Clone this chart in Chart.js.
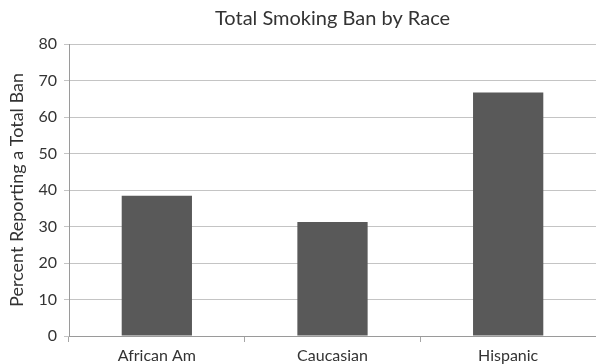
<!DOCTYPE html>
<html>
<head>
<meta charset="utf-8">
<script src="https://cdn.jsdelivr.net/npm/chart.js@4/dist/chart.umd.min.js"></script>
<style>
  html, body { margin: 0; padding: 0; background: #ffffff; }
  #wrap { width: 596px; height: 364px; }
</style>
</head>
<body>
<div id="wrap"><canvas id="chart" width="596" height="364"></canvas></div>
<script>
// Share of respondents reporting a total smoking ban, by race
const categories = ['African Am', 'Caucasian', 'Hispanic'];
const percentTotalBan = [38.4, 31.2, 66.7];
const yTicks = [0, 10, 20, 30, 40, 50, 60, 70, 80];

const FONT = 'Lato, "Open Sans", "Noto Sans", sans-serif';
const TEXT = '#333333';

new Chart(document.getElementById('chart'), {
  type: 'bar',
  data: {
    labels: categories,
    datasets: [{
      data: percentTotalBan,
      backgroundColor: '#595959',
      borderWidth: 0,
      categoryPercentage: 0.4,
      barPercentage: 1.0
    }]
  },
  options: {
    responsive: false,
    animation: false,
    layout: { padding: { left: 0, right: 0, top: 0, bottom: 0 } },
    plugins: {
      legend: { display: false },
      tooltip: { enabled: false },
      title: {
        display: true,
        fullSize: false,
        text: 'Total Smoking Ban by Race',
        color: TEXT,
        font: { family: FONT, size: 20, weight: 'normal' },
        padding: { top: 7, bottom: 13 }
      }
    },
    scales: {
      x: {
        grid: {
          display: true,
          drawOnChartArea: false,
          offset: true,
          tickLength: 6,
          color: '#a6a6a6'
        },
        border: { display: true, color: '#9a9a9a', width: 1 },
        ticks: {
          color: TEXT,
          font: { family: FONT, size: 16 },
          padding: 4,
          maxRotation: 0
        },
        afterFit: (scale) => { scale.height = 28; }
      },
      y: {
        min: 0,
        max: 80,
        afterBuildTicks: (scale) => { scale.ticks = yTicks.map(v => ({ value: v })); },
        grid: {
          color: '#c4c4c4',
          tickLength: 5,
          lineWidth: 1
        },
        border: { display: true, color: '#9a9a9a', width: 1 },
        ticks: {
          color: TEXT,
          font: { family: FONT, size: 16 },
          padding: 7
        },
        title: {
          display: true,
          text: 'Percent Reporting a Total Ban',
          color: TEXT,
          font: { family: FONT, size: 18 },
          padding: { top: 6, bottom: 2 }
        },
        afterFit: (scale) => { scale.width = 69; }
      }
    }
  }
});
</script>
</body>
</html>
